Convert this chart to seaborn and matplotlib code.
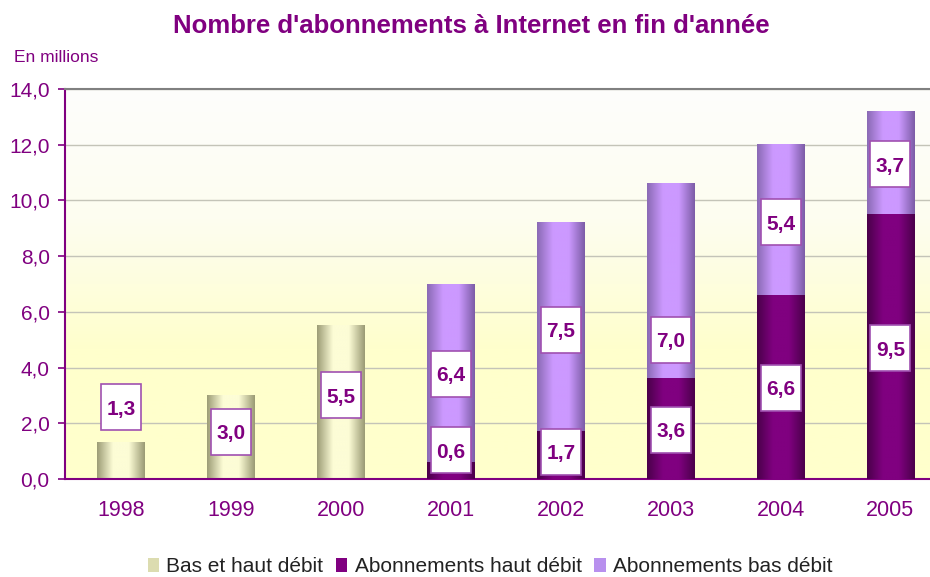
import numpy as np
import pandas as pd
import seaborn as sns
import matplotlib.pyplot as plt
from matplotlib.colors import LinearSegmentedColormap
from matplotlib.patches import Patch, Rectangle
from matplotlib.ticker import FuncFormatter
from matplotlib.transforms import ScaledTranslation

# Données (millions d'abonnements)
years = ['1998', '1999', '2000', '2001', '2002', '2003', '2004', '2005']
years_total = ['1998', '1999', '2000']
bas_et_haut = [1.3, 3.0, 5.5]
years_split = ['2001', '2002', '2003', '2004', '2005']
haut_debit = [0.6, 1.7, 3.6, 6.6, 9.5]
bas_debit = [6.4, 7.5, 7.0, 5.4, 3.7]

# position verticale des étiquettes (en millions)
lab_total_y = [2.57, 1.7, 3.0]
lab_haut_y = [1.04, 0.97, 1.76, 3.27, 4.7]
lab_bas_y = [3.77, 5.35, 5.0, 9.22, 11.3]

purple = '#800080'

sns.set_theme(style='white')
plt.rcParams['font.family'] = ['Liberation Sans', 'DejaVu Sans']

fig = plt.figure(figsize=(9.3, 5.77), dpi=100)
ax = fig.add_axes([65 / 930, 1 - 479 / 577, 865 / 930, 390 / 577])

df_tot = pd.DataFrame({'annee': years_total, 'val': bas_et_haut})
df_split = pd.DataFrame({'annee': years_split, 'haut': haut_debit, 'bas': bas_debit})
df_split['total'] = df_split['haut'] + df_split['bas']

cm_cream = LinearSegmentedColormap.from_list('c', ['#9c9c76', '#fdfdd6', '#fdfdd6', '#9a9a74'])
cm_dark = LinearSegmentedColormap.from_list('d', ['#4a004a', '#800080', '#800080', '#4a004a'])
cm_lav = LinearSegmentedColormap.from_list('l', ['#8a6ab4', '#cc99ff', '#cc99ff', '#7c5ca6'])


def layer(data, col, cmap, z):
    n0 = len(ax.patches)
    sns.barplot(data=data, x='annee', y=col, order=years, color='grey',
                width=0.43, errorbar=None, ax=ax)
    for p in ax.patches[n0:]:
        h = p.get_height()
        if not np.isfinite(h) or h == 0:
            continue
        x0, y0, w = p.get_x(), p.get_y(), p.get_width()
        grad = np.linspace(0, 1, 128).reshape(1, -1)
        ax.imshow(grad, cmap=cmap, extent=[x0, x0 + w, y0, y0 + h],
                  aspect='auto', zorder=z, interpolation='bicubic')
        p.set_visible(False)


layer(df_tot, 'val', cm_cream, 2)
layer(df_split, 'total', cm_lav, 2)
layer(df_split, 'haut', cm_dark, 3)

# fond dégradé
bg = np.linspace(0, 1, 256).reshape(-1, 1)
cm_bg = LinearSegmentedColormap.from_list('bg', ['#ffffcc', '#ffffcc', '#fdfdf0', '#fefefc'])
ax.imshow(bg, cmap=cm_bg, extent=[-0.51, 7.36, 0, 14], origin='lower',
          aspect='auto', zorder=0)

ax.set_xlim(-0.51, 7.36)
ax.set_ylim(0, 14)
ax.set_yticks(np.arange(0, 14.1, 2))
ax.yaxis.set_major_formatter(FuncFormatter(lambda v, _: f'{v:.1f}'.replace('.', ',')))
ax.yaxis.grid(True, color='#c4c4b8', lw=1)
ax.set_axisbelow(True)
ax.set_xlabel('')
ax.set_ylabel('')

ax.set_xticks(range(len(years)))
ax.set_xticklabels(years)
ax.set_xticks(np.arange(0.5, 7, 1), minor=True)
ax.tick_params(axis='x', which='major', length=0, pad=15, labelsize=15.5, labelcolor=purple)
ax.tick_params(axis='x', which='minor', length=5, width=1.2, color=purple, direction='out')
ax.tick_params(axis='y', length=5, width=1.2, color=purple, left=True, pad=6,
               labelsize=15, labelcolor=purple)

for s in ['left', 'bottom']:
    ax.spines[s].set_color(purple)
    ax.spines[s].set_linewidth(1.5)
ax.spines['top'].set_color('#808080')
ax.spines['top'].set_linewidth(1.5)
ax.spines['right'].set_visible(False)


def labels(cats, vals, ys):
    for c, v, y in zip(cats, vals, ys):
        xi = years.index(c)
        off = fig.dpi_scale_trans + ScaledTranslation(xi, y, ax.transData)
        ax.add_patch(Rectangle((-0.20, -0.23), 0.40, 0.46, transform=off,
                               facecolor='white', edgecolor='#a050b0', lw=1.2, zorder=5))
        ax.text(xi, y, f'{v:.1f}'.replace('.', ','), ha='center', va='center_baseline',
                fontsize=15, fontweight='bold', color=purple, zorder=6)


labels(years_total, bas_et_haut, lab_total_y)
labels(years_split, haut_debit, lab_haut_y)
labels(years_split, bas_debit, lab_bas_y)

fig.text(471 / 930, 1 - 26 / 577, "Nombre d'abonnements à Internet en fin d'année",
         ha='center', va='center', fontsize=18.5, fontweight='bold', color=purple)
fig.text(14 / 930, 1 - 57 / 577, 'En millions', ha='left', va='center',
         fontsize=12.5, color=purple)

handles = [Patch(facecolor='#dcdcb0', edgecolor='none'),
           Patch(facecolor=purple, edgecolor='none'),
           Patch(facecolor='#b890ee', edgecolor='none')]
fig.legend(handles, ['Bas et haut débit', 'Abonnements haut débit', 'Abonnements bas débit'],
           loc='center', bbox_to_anchor=(490 / 930, 1 - 567 / 577), ncol=3, frameon=False,
           fontsize=15, handlelength=0.55, handleheight=0.65, handletextpad=0.35,
           columnspacing=0.6, labelcolor='#222222')

fig.savefig('out.png', dpi=100)
